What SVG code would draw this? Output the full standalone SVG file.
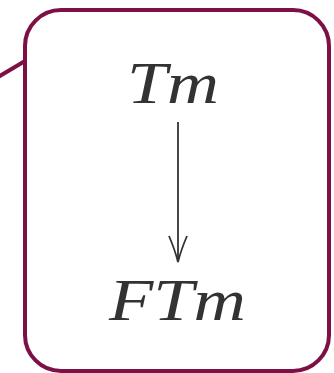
<svg xmlns="http://www.w3.org/2000/svg" width="334" height="373" viewBox="0 0 334 373">
<style>
.box{fill:#ffffff;stroke:#7d1045;stroke-width:4}
.lbl{font-family:"Liberation Serif","Times New Roman",serif;font-style:italic;font-size:59px;fill:#333333}
.edge{stroke:#333333;stroke-width:1.8;fill:none}
</style>
<g id="callout">
<line x1="-2" y1="77" x2="25" y2="61" stroke="#7d1045" stroke-width="4"/>
<rect class="box" x="25" y="10" width="304" height="361" rx="36" ry="36"/>
</g>
<g id="node-Tm"><text class="lbl" x="127" y="103" textLength="92" lengthAdjust="spacingAndGlyphs">Tm</text></g>
<g id="node-FTm"><text class="lbl" x="109" y="320" textLength="137" lengthAdjust="spacingAndGlyphs">FTm</text></g>
<g id="connectors">
<line class="edge" x1="178" y1="122" x2="178" y2="262"/>
<path class="edge" d="M169,236 Q175,250 178,262 Q181,250 187,236"/>
</g>
</svg>
